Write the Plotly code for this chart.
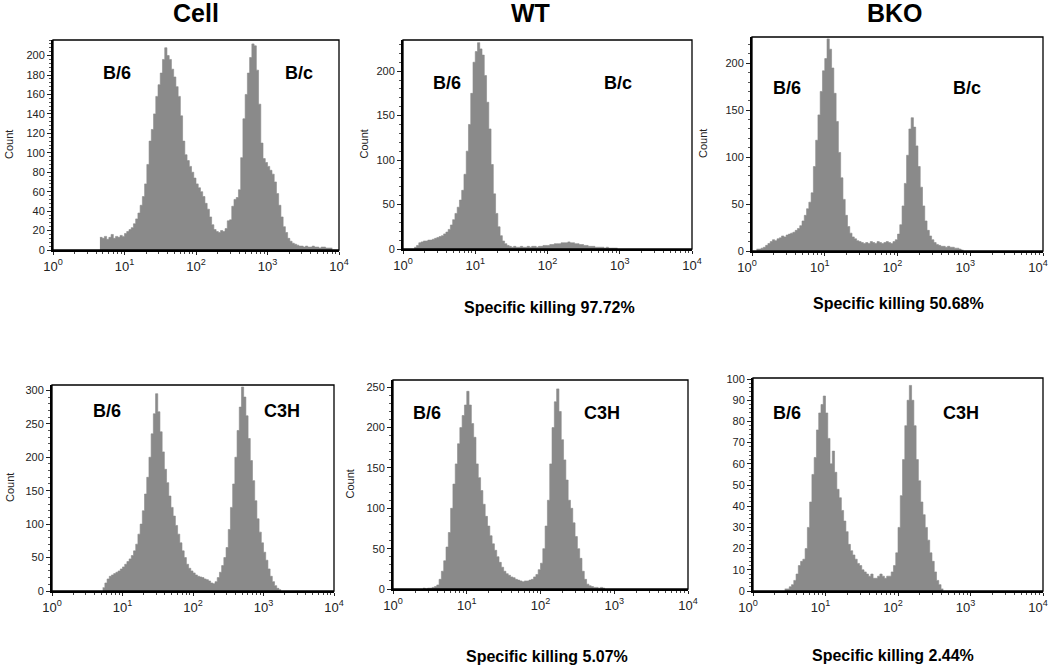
import plotly.graph_objects as go

W, H = 1050, 668
BINS_PER_DECADE = 32

column_titles = ["Cell", "WT", "BKO"]
killing_texts = ["Specific killing 97.72%", "Specific killing 50.68%",
                 "Specific killing 5.07%", "Specific killing 2.44%"]
x_tick_labels = ["10<sup>0</sup>", "10<sup>1</sup>", "10<sup>2</sup>", "10<sup>3</sup>", "10<sup>4</sup>"]
y_title = "Count"

# histogram channel counts (32 channels per decade), first channel index given by *_start
cell_bc_start = 21
cell_bc = [13, 12, 14, 11, 13, 16, 12, 14, 13, 15, 14, 17, 19, 21, 23, 27, 32, 38, 46, 55,
           68, 88, 112, 124, 140, 158, 170, 182, 196, 208, 200, 196, 186, 178, 168, 158, 138, 112, 98, 92,
           86, 80, 74, 68, 64, 60, 55, 48, 42, 34, 26, 21, 19, 18, 20, 19, 22, 30, 31, 45,
           52, 54, 62, 95, 135, 160, 182, 198, 212, 210, 185, 150, 110, 94, 90, 86, 82, 78, 70, 58,
           46, 34, 24, 18, 12, 9, 7, 6, 5, 4, 4, 3, 4, 3, 3, 4, 3, 3, 2, 3,
           3, 2, 2, 2]

wt_bc_start = 5
wt_bc = [2, 4, 7, 8, 9, 9, 10, 10, 11, 12, 13, 14, 15, 17, 19, 22, 27, 33, 40, 47,
         55, 66, 84, 110, 140, 175, 210, 222, 232, 225, 218, 195, 165, 135, 95, 62, 40, 25, 15, 9,
         6, 4, 3, 2, 3, 2, 2, 3, 2, 2, 3, 2, 3, 3, 2, 3, 3, 4, 4, 4,
         5, 5, 6, 6, 6, 7, 7, 7, 8, 7, 7, 6, 6, 5, 5, 4, 4, 3, 3, 3,
         2, 2, 2, 2, 1, 2, 1, 1, 1, 1]

bko_bc_start = 2
bko_bc = [2, 2, 3, 4, 6, 8, 10, 12, 11, 13, 14, 16, 15, 17, 18, 19, 20, 22, 24, 27,
          32, 38, 45, 52, 62, 90, 118, 145, 170, 192, 205, 226, 215, 195, 168, 138, 105, 78, 55, 38,
          26, 19, 15, 13, 11, 10, 9, 8, 9, 8, 10, 9, 8, 10, 9, 8, 9, 10, 9, 8,
          10, 12, 18, 28, 48, 72, 102, 130, 142, 132, 112, 90, 68, 48, 32, 22, 16, 12, 9, 7,
          6, 5, 5, 4, 5, 4, 4, 3, 3, 2, 1]

cell_c3h_start = 23
cell_c3h = [5, 12, 18, 22, 24, 26, 28, 30, 33, 36, 40, 44, 48, 53, 60, 70, 85, 100, 120, 145,
            170, 200, 235, 265, 295, 268, 238, 208, 182, 162, 142, 125, 112, 98, 85, 72, 60, 50, 40, 34,
            30, 27, 24, 22, 21, 20, 18, 17, 15, 12, 11, 14, 20, 28, 38, 50, 65, 92, 125, 160,
            200, 240, 275, 305, 290, 262, 228, 195, 165, 135, 108, 88, 72, 58, 46, 33, 22, 14, 8, 4,
            2]

wt_c3h_start = 13
wt_c3h = [1, 0, 1, 1, 2, 3, 5, 12, 22, 35, 52, 70, 100, 130, 155, 180, 200, 215, 228, 245,
          228, 205, 188, 155, 138, 122, 105, 90, 78, 66, 56, 48, 40, 33, 27, 22, 19, 17, 15, 14,
          12, 11, 10, 9, 10, 10, 11, 12, 15, 18, 24, 32, 50, 78, 110, 155, 200, 232, 248, 220,
          185, 160, 135, 110, 100, 82, 65, 50, 38, 22, 12, 6, 4, 3, 2, 2, 1, 2, 1]

bko_c3h_start = 14
bko_c3h = [1, 1, 2, 3, 5, 8, 12, 14, 15, 20, 30, 42, 55, 63, 76, 84, 88, 92, 84, 72,
           60, 66, 56, 48, 44, 38, 33, 28, 22, 19, 17, 15, 13, 12, 10, 9, 8, 7, 8, 6,
           6, 7, 8, 7, 6, 7, 7, 9, 12, 18, 30, 45, 62, 78, 90, 97, 90, 78, 62, 52,
           42, 36, 30, 24, 18, 14, 9, 5, 3, 1]

pop_labels = [("B/6", "B/c"), ("B/6", "B/c"), ("B/6", "B/c"),
              ("B/6", "C3H"), ("B/6", "C3H"), ("B/6", "C3H")]

y_tops = [216, 235, 228, 308, 259, 100.5]
y_dticks = [20, 50, 50, 50, 50, 10]

# layout (pixel boxes of the six panels)
boxes = [(53, 339, 40, 250), (403, 692, 40, 249), (752, 1043, 37, 251),
         (52, 334, 385, 591), (393, 688, 380, 589), (753, 1043, 378, 591)]
x_label_shift = [0, 0, -5, 0, 0, -5]
label_pos = [((117, 73), (299, 73)), ((447, 83), (618, 83)), ((787, 88), (967, 88)),
             ((107, 411), (282, 411)), ((427, 413), (602, 413)), ((787, 413), (961, 413))]
count_x = [9, 363, 703, 10, 349, None]
title_pos = [(196, 13), (530, 13), (895, 13)]
kill_pos = [(549, 307), (898, 303), (547, 656), (893, 655)]

datasets = [(cell_bc_start, cell_bc), (wt_bc_start, wt_bc), (bko_bc_start, bko_bc),
            (cell_c3h_start, cell_c3h), (wt_c3h_start, wt_c3h), (bko_c3h_start, bko_c3h)]

FILL = "rgb(138,138,138)"
FONT = "Arial, Liberation Sans, Helvetica, sans-serif"

def px(x):
    return x / W

def py(y):
    return 1 - y / H

fig = go.Figure()
layout = dict(width=W, height=H, margin=dict(l=0, r=0, t=0, b=0, autoexpand=False),
              paper_bgcolor="white", plot_bgcolor="white", showlegend=False,
              font=dict(family=FONT, color="#222"))
annotations = []
shapes = []

major_x = [10 ** k for k in range(5)]
minor_x = [m * 10 ** k for k in range(4) for m in range(2, 10)]

for i, ((start, counts), box) in enumerate(zip(datasets, boxes)):
    xs = [10 ** ((start + k) / BINS_PER_DECADE) for k in range(len(counts) + 1)]
    ys = list(counts) + [counts[-1]]
    sfx = "" if i == 0 else str(i + 1)
    fig.add_trace(go.Scatter(x=xs, y=ys, mode="lines", line=dict(shape="hv", width=0.6, color=FILL),
                             fill="tozeroy", fillcolor=FILL, xaxis="x" + sfx, yaxis="y" + sfx,
                             hoverinfo="skip"))
    l, r, t, b = box
    layout["xaxis" + sfx] = dict(
        type="log", range=[0, 4], domain=[px(l), px(r)], anchor="y" + sfx, automargin=False,
        tickmode="array", tickvals=major_x, ticktext=x_tick_labels, ticklabeloverflow="allow",
        ticklabelshift=x_label_shift[i],
        ticks="outside", ticklen=3, tickwidth=1, tickcolor="#222",
        minor=dict(tickmode="array", tickvals=minor_x, ticks="outside", ticklen=2, tickcolor="#444"),
        showline=True, linewidth=2, linecolor="black", showgrid=False, zeroline=False,
        tickfont=dict(size=13, color="#222", family=FONT), fixedrange=True)
    layout["yaxis" + sfx] = dict(
        range=[0, y_tops[i]], domain=[py(b), py(t)], anchor="x" + sfx, automargin=False,
        tick0=0, dtick=y_dticks[i], ticks="outside", ticklen=4, tickwidth=1, tickcolor="#222",
        ticklabeloverflow="allow",
        minor=dict(dtick=y_dticks[i] / 5, ticks="outside", ticklen=2, tickcolor="#555"),
        showline=True, linewidth=2, linecolor="black", showgrid=False, zeroline=False,
        tickfont=dict(size=11, color="#222", family=FONT), fixedrange=True)
    shapes.append(dict(type="rect", xref="x%s domain" % sfx, yref="y%s domain" % sfx,
                       x0=0, x1=1, y0=0, y1=1, line=dict(color="black", width=1.3)))
    for txt, (lx, ly) in zip(pop_labels[i], label_pos[i]):
        annotations.append(dict(text="<b>%s</b>" % txt, x=px(lx), y=py(ly), xref="paper", yref="paper",
                                showarrow=False, xanchor="center", yanchor="middle",
                                font=dict(size=18, color="black", family=FONT)))
    if count_x[i] is not None:
        annotations.append(dict(text=y_title, x=px(count_x[i]), y=py((t + b) / 2), xref="paper", yref="paper",
                                showarrow=False, textangle=-90, xanchor="center", yanchor="middle",
                                font=dict(size=11, color="#222", family=FONT)))

for txt, (tx, ty) in zip(column_titles, title_pos):
    annotations.append(dict(text="<b>%s</b>" % txt, x=px(tx), y=py(ty), xref="paper", yref="paper",
                            showarrow=False, xanchor="center", yanchor="middle",
                            font=dict(size=25, color="black", family=FONT)))
for txt, (tx, ty) in zip(killing_texts, kill_pos):
    annotations.append(dict(text="<b>%s</b>" % txt, x=px(tx), y=py(ty), xref="paper", yref="paper",
                            showarrow=False, xanchor="center", yanchor="middle",
                            font=dict(size=16, color="black", family=FONT)))

layout["annotations"] = annotations
layout["shapes"] = shapes
fig.update_layout(**layout)
fig.write_html("out.html", config={"displayModeBar": False},
               post_script="document.body.style.margin='0';document.body.style.overflow='hidden';")
